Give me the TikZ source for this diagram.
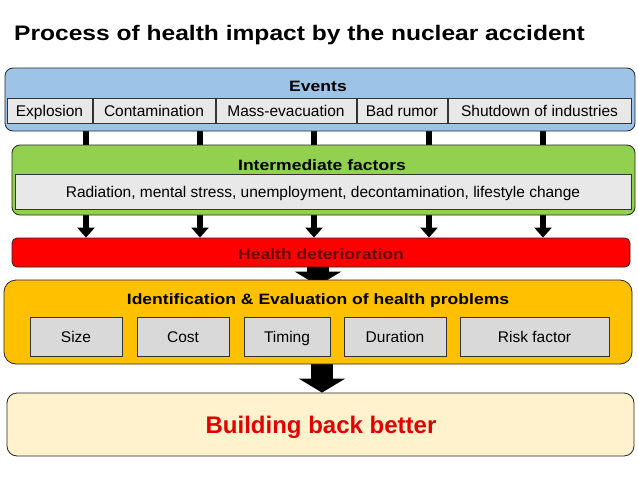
\documentclass[tikz,border=0pt]{standalone}
\usepackage{fontspec}
\setmainfont{Liberation Sans}
\newfontfamily\widebf{Liberation Sans}[FakeStretch=1.17]
\usepackage{tikz}
\usetikzlibrary{positioning, arrows.meta}
\pgfdeclarelayer{background}
\pgfsetlayers{background,main}

\definecolor{evblue}{HTML}{9DC3E6}
\definecolor{imgreen}{HTML}{92D050}
\definecolor{hdred}{HTML}{FF0000}
\definecolor{hdtext}{HTML}{6B0000}
\definecolor{idorange}{HTML}{FFC000}
\definecolor{bbcream}{HTML}{FFF2CC}
\definecolor{bbred}{HTML}{E00000}
\definecolor{boxgrey}{HTML}{E8E8E8}
\definecolor{boxgreydk}{HTML}{D9D9D9}

\tikzset{
  panel/.style={draw=black!85, line width=0.8pt, rounded corners=#1, inner sep=0pt},
  panel/.default=8pt,
  subbox/.style={draw=black!80, line width=0.7pt, inner sep=0pt,
    text height=13pt, text depth=1pt},
  headtxt/.style={inner sep=0pt, text height=11pt, text depth=0pt,
    font=\widebf\bfseries\fontsize{15}{18}\selectfont},
  thinarr/.style={line width=6.5pt, -{Triangle[width=17pt,length=10pt]}},
  bigarr/.style={line width=22pt, -{Triangle[width=46pt,length=14pt]}}
}

\begin{document}
\begin{tikzpicture}[x=1pt, y=-1pt, font=\fontsize{15.5}{18}\selectfont]
    \useasboundingbox (0,0) rectangle (638,479);

    % Titolo
    \node[anchor=base west, inner sep=0pt, font=\widebf\bfseries\fontsize{21}{25}\selectfont]
        (title) at (14,40) {Process of health impact by the nuclear accident};

    % Events
    \node[panel, fill=evblue, minimum width=630pt, minimum height=63pt] (ev) at (320,99.5) {};
    \node[headtxt] (evt) at (318,86.3) {Events};
    \foreach \c/\w/\t [count=\i] in {49.5/85/Explosion, 154/122/Contamination,
        286/140/Mass-evacuation, 402/90/Bad rumor, 539.5/183/Shutdown of industries}
        \node[subbox, fill=boxgrey, minimum width=\w pt, minimum height=25pt] (ev\i) at (\c,110.5) {\t};

    % Intermediate factors
    \node[panel, fill=imgreen, minimum width=623pt, minimum height=70pt] (im) at (323.5,180) {};
    \node[headtxt] (imt) at (322,164.7) {Intermediate factors};
    \node[subbox, fill=boxgrey, minimum width=616pt, minimum height=35pt] (im1) at (323,191.5)
        {Radiation, mental stress, unemployment, decontamination, lifestyle change};

    % Health deterioration
    \node[panel=5pt, fill=hdred, minimum width=618pt, minimum height=29pt] (hd) at (321,252.5) {};
    \node[headtxt, text=hdtext] (hdt) at (321,253.7) {Health deterioration};

    % Identification & Evaluation
    \node[panel=12pt, fill=idorange, minimum width=628pt, minimum height=84pt] (id) at (318,322) {};
    \node[headtxt] (idt) at (318,298.5) {Identification \& Evaluation of health problems};
    \foreach \c/\w/\t [count=\i] in {76/92/Size, 183/92/Cost, 287/86/Timing,
        395/102/Duration, 534.5/149/Risk factor}
        \node[subbox, fill=boxgreydk, minimum width=\w pt, minimum height=39pt] (id\i) at (\c,336.5) {\t};

    % Building back better
    \node[panel=10pt, fill=bbcream, minimum width=627pt, minimum height=63pt] (bb) at (320.5,424.5) {};
    \node[inner sep=0pt, text height=17pt, text depth=0pt, text=bbred,
        font=\bfseries\fontsize{24}{28}\selectfont] (bbt) at (321,425) {Building back better};

    % Frecce (dietro ai riquadri)
    \begin{pgfonlayer}{background}
        \foreach \x in {86,200,314,429,543}
            \draw[thinarr] (ev.south -| \x,0) -- (hd.north -| \x,0);
        \draw[bigarr] (hd.south -| 318,0) -- ([yshift=-6pt]id.north -| 318,0);
        \draw[bigarr] (id.south -| 322,0) -- (bb.north -| 322,0);
    \end{pgfonlayer}

\end{tikzpicture}
\end{document}
